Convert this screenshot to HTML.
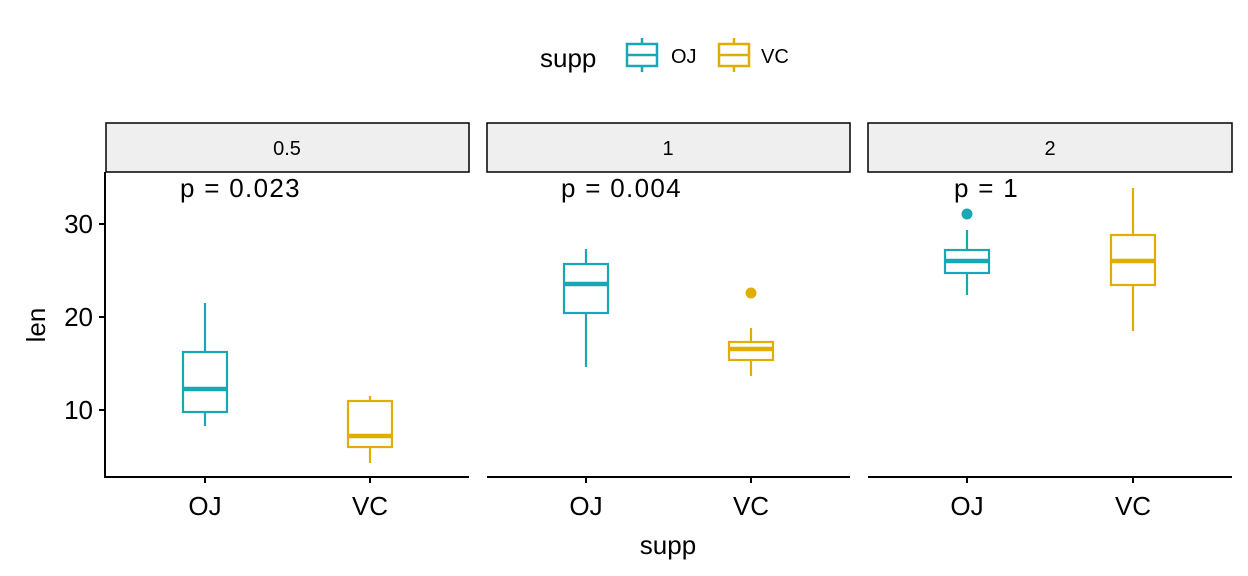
<!DOCTYPE html>
<html><head><meta charset="utf-8"><style>body{margin:0;background:#fff}svg{display:block}text{font-family:"Liberation Sans",sans-serif}</style></head><body>
<svg width="1248" height="576" viewBox="0 0 1248 576">
<!-- legend -->
<text x="540" y="67" font-size="26" fill="#000">supp</text>
<g stroke="#1AA7B5" stroke-width="2.5" fill="none">
<line x1="642" y1="38" x2="642" y2="44"/><line x1="642" y1="66" x2="642" y2="72"/>
<rect x="627" y="44" width="30" height="22"/><line x1="627" y1="55" x2="657" y2="55"/></g>
<text x="671" y="63" font-size="20">OJ</text>
<g stroke="#E0AE00" stroke-width="2.5" fill="none">
<line x1="734" y1="38" x2="734" y2="44"/><line x1="734" y1="66" x2="734" y2="72"/>
<rect x="719" y="44" width="30" height="22"/><line x1="719" y1="55" x2="749" y2="55"/></g>
<text x="761" y="63" font-size="20">VC</text>
<!-- strips -->
<g fill="#EFEFEF" stroke="#000" stroke-width="1.5">
<rect x="106" y="123" width="363" height="49"/><rect x="487" y="123" width="363" height="49"/><rect x="868" y="123" width="364" height="49"/></g>
<g font-size="20" text-anchor="middle"><text x="287" y="155">0.5</text><text x="668" y="155">1</text><text x="1050" y="155">2</text></g>
<!-- axes -->
<g stroke="#000" stroke-width="2">
<line x1="105" y1="172" x2="105" y2="478"/>
<line x1="104" y1="477" x2="469" y2="477"/><line x1="487" y1="477" x2="850" y2="477"/><line x1="868" y1="477" x2="1232" y2="477"/>
<line x1="99" y1="224" x2="105" y2="224"/><line x1="99" y1="317" x2="105" y2="317"/><line x1="99" y1="410" x2="105" y2="410"/>
<line x1="205" y1="477" x2="205" y2="483"/><line x1="370" y1="477" x2="370" y2="483"/>
<line x1="586" y1="477" x2="586" y2="483"/><line x1="751" y1="477" x2="751" y2="483"/>
<line x1="967" y1="477" x2="967" y2="483"/><line x1="1133" y1="477" x2="1133" y2="483"/></g>
<g font-size="26" text-anchor="end"><text x="93" y="233">30</text><text x="93" y="326">20</text><text x="93" y="419">10</text></g>
<g font-size="26" text-anchor="middle"><text x="205" y="515">OJ</text><text x="370" y="515">VC</text><text x="586" y="515">OJ</text><text x="751" y="515">VC</text><text x="967" y="515">OJ</text><text x="1133" y="515">VC</text>
<text x="668" y="554">supp</text></g>
<text transform="translate(45,325) rotate(-90)" font-size="26" text-anchor="middle">len</text>
<g font-size="26" letter-spacing="1.3"><text x="180" y="197">p = 0.023</text><text x="561" y="197">p = 0.004</text><text x="954" y="197">p = 1</text></g>
<!-- boxes -->
<g stroke-width="2.2" fill="none">
<g stroke="#1AA7B5">
<line x1="205" y1="303" x2="205" y2="352"/><line x1="205" y1="412" x2="205" y2="426"/><rect x="183" y="352" width="44" height="60"/><line x1="183" y1="389" x2="227" y2="389" stroke-width="4.5"/>
<line x1="586" y1="249" x2="586" y2="264"/><line x1="586" y1="313" x2="586" y2="367"/><rect x="564" y="264" width="44" height="49"/><line x1="564" y1="284" x2="608" y2="284" stroke-width="4.5"/>
<line x1="967" y1="230" x2="967" y2="250"/><line x1="967" y1="273" x2="967" y2="295"/><rect x="945" y="250" width="44" height="23"/><line x1="945" y1="261" x2="989" y2="261" stroke-width="4.5"/>
</g>
<g stroke="#E0AE00">
<line x1="370" y1="396" x2="370" y2="401"/><line x1="370" y1="447" x2="370" y2="463"/><rect x="348" y="401" width="44" height="46"/><line x1="348" y1="436" x2="392" y2="436" stroke-width="4.5"/>
<line x1="751" y1="328" x2="751" y2="342"/><line x1="751" y1="360" x2="751" y2="376"/><rect x="729" y="342" width="44" height="18"/><line x1="729" y1="349" x2="773" y2="349" stroke-width="4.5"/>
<line x1="1133" y1="188" x2="1133" y2="235"/><line x1="1133" y1="285" x2="1133" y2="331"/><rect x="1111" y="235" width="44" height="50"/><line x1="1111" y1="261" x2="1155" y2="261" stroke-width="4.5"/>
</g></g>
<circle cx="751" cy="293" r="5.5" fill="#E0AE00"/>
<circle cx="967" cy="214" r="5.5" fill="#1AA7B5"/>
</svg>
</body></html>
